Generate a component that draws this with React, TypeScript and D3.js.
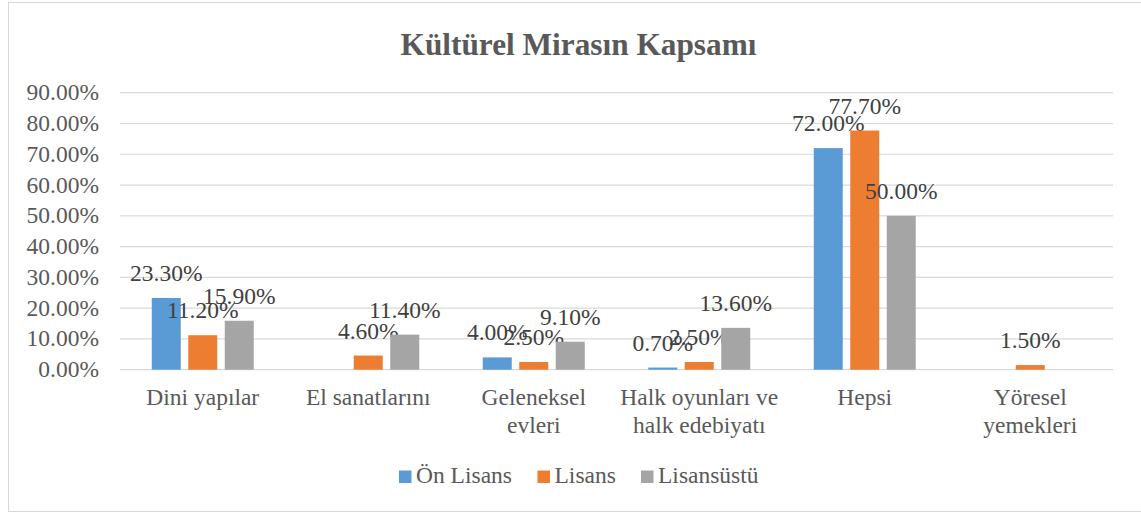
import React from "react";
import * as d3 from "d3";

const categories = [
  "Dini yapılar",
  "El sanatlarını",
  "Geleneksel evleri",
  "Halk oyunları ve halk edebiyatı",
  "Hepsi",
  "Yöresel yemekleri",
];
// how each category label wraps on the axis
const categoryLines = [
  ["Dini yapılar"],
  ["El sanatlarını"],
  ["Geleneksel", "evleri"],
  ["Halk oyunları ve", "halk edebiyatı"],
  ["Hepsi"],
  ["Yöresel", "yemekleri"],
];
const seriesNames = ["Ön Lisans", "Lisans", "Lisansüstü"];
const seriesColors = ["#5B9BD5", "#ED7D31", "#A5A5A5"];
const onLisans = [23.3, null, 4.0, 0.7, 72.0, null];
const lisans = [11.2, 4.6, 2.5, 2.5, 77.7, 1.5];
const lisansustu = [15.9, 11.4, 9.1, 13.6, 50.0, null];
const yTicks = [0, 10, 20, 30, 40, 50, 60, 70, 80, 90];

const W = 1141;
const H = 513;
const FONT = "Liberation Serif, Times New Roman, DejaVu Serif, serif";
const TEXT = "#595959";

export default function App() {
  const series = [onLisans, lisans, lisansustu];

  const x0 = d3.scaleBand<string>().domain(categories).range([120, 1113]).padding(0);
  const groupW = 102;
  const bw0 = x0.bandwidth();
  const x1 = d3
    .scaleBand<number>()
    .domain([0, 1, 2])
    .range([(bw0 - groupW) / 2, (bw0 + groupW) / 2])
    .paddingInner(7.5 / 36.5)
    .paddingOuter(0);
  const y = d3.scaleLinear().domain([0, 90]).range([369.7, 92.7]);
  const fmt = (v: number) => d3.format(".2f")(v) + "%";

  const legendX = [399, 537.5, 641];
  const ts = { fontFamily: FONT };

  return (
    <svg
      width={W}
      height={H}
      style={{ position: "fixed", left: 0, top: 0, background: "#fff", fontFamily: FONT }}
    >
      <rect x={8.5} y={2.5} width={1140} height={509} fill="#fff" stroke="#D9D9D9" />
      <text x={578.5} y={55} textAnchor="middle" fontSize={31.3} fontWeight="bold" fill={TEXT} style={ts}>
        Kültürel Mirasın Kapsamı
      </text>

      {yTicks.map((t) => (
        <g key={t}>
          <line x1={120} x2={1113} y1={y(t)} y2={y(t)} stroke="#D9D9D9" strokeWidth={1.2} />
          <text x={99} y={y(t)} dy="0.32em" textAnchor="end" fontSize={23.5} fill={TEXT} style={ts}>
            {fmt(t)}
          </text>
        </g>
      ))}

      {categories.map((c, ci) => (
        <g key={c} transform={`translate(${x0(c)},0)`}>
          {series.map((s, si) => {
            const v = s[ci];
            if (v == null) return null;
            const bx = x1(si)!;
            return (
              <g key={si}>
                <rect
                  x={bx}
                  y={y(v)}
                  width={x1.bandwidth()}
                  height={y(0) - y(v)}
                  fill={seriesColors[si]}
                />
                <text
                  x={bx + x1.bandwidth() / 2}
                  y={y(v) - 17}
                  textAnchor="middle"
                  fontSize={23.5}
                  fill="#404040"
                  style={ts}
                >
                  {fmt(v)}
                </text>
              </g>
            );
          })}
          {categoryLines[ci].map((line, li) => (
            <text
              key={li}
              x={bw0 / 2}
              y={405 + li * 27.5}
              textAnchor="middle"
              fontSize={23.5}
              fill={TEXT}
              style={ts}
            >
              {line}
            </text>
          ))}
        </g>
      ))}

      {seriesNames.map((n, i) => (
        <g key={n} transform={`translate(${legendX[i]},0)`}>
          <rect x={0} y={470.5} width={12.5} height={12.5} fill={seriesColors[i]} />
          <text x={17} y={483.3} fontSize={23.5} fill={TEXT} style={ts}>
            {n}
          </text>
        </g>
      ))}
    </svg>
  );
}
